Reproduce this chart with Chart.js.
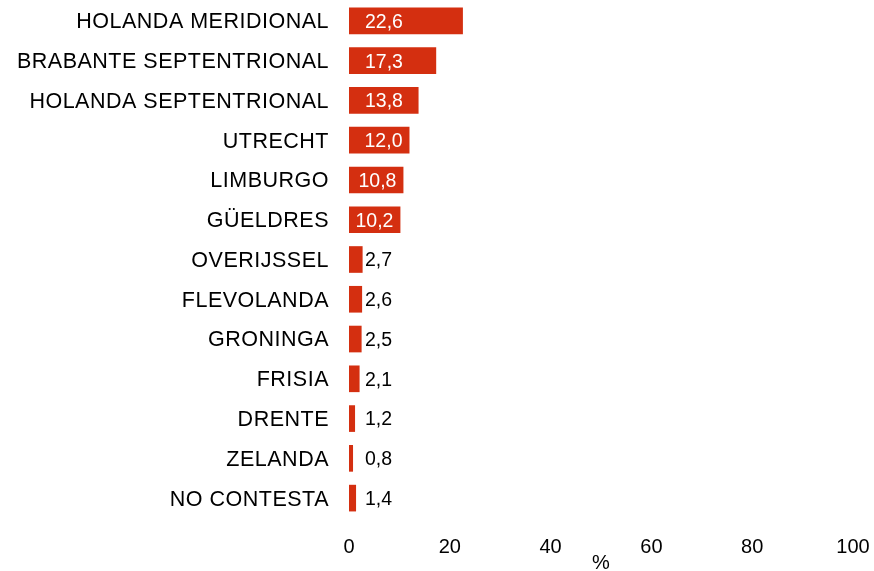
<!DOCTYPE html>
<html>
<head>
<meta charset="utf-8">
<script src="https://cdn.jsdelivr.net/npm/chart.js@4/dist/chart.umd.min.js"></script>
<style>
  html, body { margin: 0; padding: 0; background: #ffffff; }
  #wrap { width: 874px; height: 571px; position: relative; }
</style>
</head>
<body>
<div id="wrap"><canvas id="c" width="874" height="571"></canvas></div>
<script>
const categories = [
  "HOLANDA MERIDIONAL",
  "BRABANTE SEPTENTRIONAL",
  "HOLANDA SEPTENTRIONAL",
  "UTRECHT",
  "LIMBURGO",
  "GÜELDRES",
  "OVERIJSSEL",
  "FLEVOLANDA",
  "GRONINGA",
  "FRISIA",
  "DRENTE",
  "ZELANDA",
  "NO CONTESTA"
];
const values = [22.6, 17.3, 13.8, 12.0, 10.8, 10.2, 2.7, 2.6, 2.5, 2.1, 1.2, 0.8, 1.4];
const xTicks = [0, 20, 40, 60, 80, 100];
const axisTitle = "%";

const FONT = "'Liberation Sans', Arial, Helvetica, sans-serif";
const BAR_COLOR = "#d42f10";
const TEXT_COLOR = "#000000";

const spacedYLabels = {
  id: 'spacedYLabels',
  beforeDraw(chart) {
    const y = chart.scales.y;
    if (y && !y._spacedPatched) {
      const orig = y.drawLabels.bind(y);
      y.drawLabels = function (area) {
        const ctx = chart.ctx;
        ctx.save();
        ctx.letterSpacing = '0.5px';
        ctx.translate(0, 1.5);
        orig(area);
        ctx.restore();
      };
      y._spacedPatched = true;
    }
  }
};

const valueLabels = {
  id: 'valueLabels',
  afterDatasetsDraw(chart) {
    const ctx = chart.ctx;
    const meta = chart.getDatasetMeta(0);
    const x0 = chart.scales.x.getPixelForValue(0);
    ctx.save();
    ctx.font = "19.5px " + FONT;
    ctx.textAlign = 'left';
    ctx.textBaseline = 'middle';
    meta.data.forEach((bar, i) => {
      const v = values[i];
      const txt = v.toFixed(1).replace('.', ',');
      const w = ctx.measureText(txt).width;
      let x = x0 + 16;
      if (v >= 10) {
        ctx.fillStyle = '#ffffff';
        x = Math.min(x, bar.x - 7 - w);
      } else {
        ctx.fillStyle = TEXT_COLOR;
      }
      ctx.fillText(txt, x, bar.y + 1.5);
    });
    ctx.restore();
  }
};

new Chart(document.getElementById('c'), {
  type: 'bar',
  data: {
    labels: categories,
    datasets: [{
      data: values,
      backgroundColor: BAR_COLOR,
      borderWidth: 0,
      barPercentage: 0.67,
      categoryPercentage: 1.0
    }]
  },
  options: {
    indexAxis: 'y',
    responsive: false,
    animation: false,
    devicePixelRatio: 1,
    layout: { padding: { left: 0, right: 21, top: 1, bottom: 0 } },
    plugins: {
      legend: { display: false },
      tooltip: { enabled: false },
      title: { display: false }
    },
    scales: {
      x: {
        type: 'linear',
        min: 0,
        max: 100,
        afterBuildTicks(scale) { scale.ticks = xTicks.map(v => ({ value: v })); },
        afterFit(scale) {
          scale.height = 53;
          scale.paddingLeft = 0; scale.paddingRight = 0;
          scale.paddingTop = 0; scale.paddingBottom = 0;
        },
        grid: { display: false, drawTicks: false },
        border: { display: false },
        ticks: {
          padding: 17,
          color: TEXT_COLOR,
          font: { family: FONT, size: 20 },
          maxRotation: 0
        },
        title: {
          display: true,
          text: axisTitle,
          color: TEXT_COLOR,
          font: { family: FONT, size: 20, lineHeight: 1 },
          padding: { top: 0, bottom: -2 }
        }
      },
      y: {
        afterFit(scale) {
          scale.width = 349;
          scale.paddingTop = 0; scale.paddingBottom = 0;
          scale.paddingLeft = 0; scale.paddingRight = 0;
        },
        grid: { display: false, drawTicks: false },
        border: { display: false },
        ticks: {
          padding: 20,
          color: TEXT_COLOR,
          font: { family: FONT, size: 21.5 },
          autoSkip: false
        }
      }
    }
  },
  plugins: [spacedYLabels, valueLabels]
});
</script>
</body>
</html>
